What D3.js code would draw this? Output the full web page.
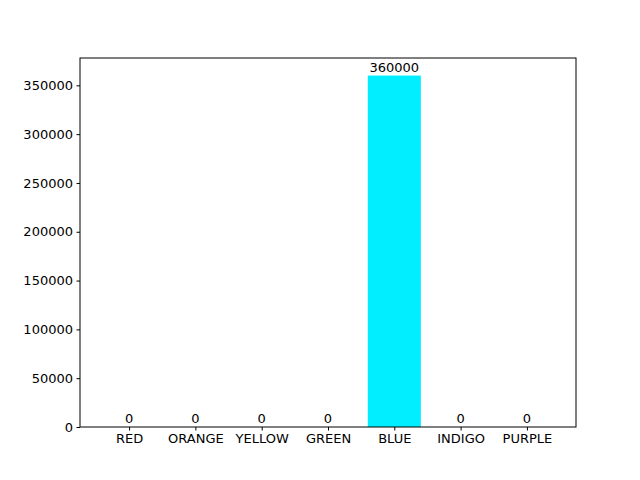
<!DOCTYPE html>
<html><head><meta charset="utf-8">
<script src="https://cdn.jsdelivr.net/npm/d3@7"></script>
<style>body{margin:0;background:#fff}text{font-family:"DejaVu Sans",sans-serif;font-size:13px}</style>
</head><body>
<svg id="c" width="640" height="480"></svg>
<script>
const categories=["RED","ORANGE","YELLOW","GREEN","BLUE","INDIGO","PURPLE"];
const values=[0,0,0,0,360000,0,0];
const colors=["#ff0000","#ffa500","#ffff00","#00ff00","#00eeff","#4b0082","#800080"];
const yTicks=[0,50000,100000,150000,200000,250000,300000,350000];
const svg=d3.select("#c");
const L=80,R=576,T=58,B=427;
const x=d3.scaleLinear().domain([-0.74,6.74]).range([L,R]);
const y=d3.scaleLinear().domain([0,378000]).range([B,T]);
const g=svg.append("g");
g.selectAll("rect").data(values).join("rect")
 .attr("x",(d,i)=>x(i-0.4)).attr("width",x(0.4)-x(-0.4))
 .attr("y",d=>y(d)).attr("height",d=>B-y(d)).attr("fill",(d,i)=>colors[i]);
g.selectAll(".lbl").data(values).join("text")
 .attr("x",(d,i)=>x(i)).attr("y",d=>y(d)-4).attr("text-anchor","middle").text(d=>d);
const ya=svg.append("g").attr("transform",`translate(${L},0)`).call(d3.axisLeft(y).tickValues(yTicks).tickSize(3.5).tickPadding(3.5).tickFormat(d3.format("d")));
const xa=svg.append("g").attr("transform",`translate(0,${B})`).call(d3.axisBottom(x).tickValues(d3.range(7)).tickSize(3.5).tickPadding(3.5).tickFormat(i=>categories[i]));
[ya,xa].forEach(a=>{a.select(".domain").remove();a.selectAll("text").style("font-size","13px").attr("fill","#000");a.selectAll("line").attr("stroke","#000");});
svg.append("rect").attr("x",L).attr("y",T).attr("width",R-L).attr("height",B-T).attr("fill","none").attr("stroke","#000").attr("stroke-width",1);
</script></body></html>
